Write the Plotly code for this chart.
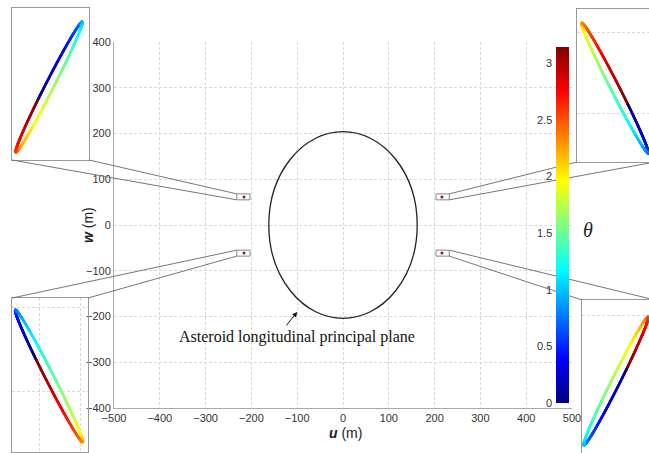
import numpy as np
import plotly.graph_objects as go

# ---------------- data ----------------
x_ticks = [-500, -400, -300, -200, -100, 0, 100, 200, 300, 400, 500]
y_ticks = [-400, -300, -200, -100, 0, 100, 200, 300, 400]

# asteroid longitudinal principal plane (ellipse semi-axes, m)
ast_semi_u = 162
ast_semi_w = 204

# small periodic orbits (dot positions, m) and zoom windows (m)
orbit_u = [-216, 216, -216, 216]
orbit_w = [61, 61, -61, -61]
win_u_in = 203      # inner edge |u| of the zoom windows
win_u_out = 232     # outer edge |u|
win_w_lo = 55
win_w_hi = 68

# inset orbit shapes (local inset units): centre, semi-axes, tilt (deg), phase at theta=0
inset_cu = [-1.5, -0.5, -1.0, -4.5]
inset_cw = [-3.0, -2.5, -1.0, -4.0]
inset_a = [73, 73, 74, 71.5]
inset_b = [4.2, 4.2, 4.2, 4.2]
inset_tilt = [63, 117, 117, 63.4]
inset_phase = [1.80, -1.83, 1.30, -1.33]

theta_max = np.pi
cbar_ticks = [0, 0.5, 1, 1.5, 2, 2.5, 3]
cbar_labels = ["0", "0.5", "1", "1.5", "2", "2.5", "3"]

jet = [[0.0, "rgb(0,0,128)"], [0.125, "rgb(0,0,255)"], [0.375, "rgb(0,255,255)"],
       [0.625, "rgb(255,255,0)"], [0.875, "rgb(255,0,0)"], [1.0, "rgb(128,0,0)"]]

# ---------------- layout geometry ----------------
W, H = 649, 453
main_x_px = (114, 572)
main_y_px = (42, 408)
xr = (-500, 500)
yr = (-400, 400)
cbar_px = dict(x0=556, x1=569, y0=47, y1=403)

def px_x(p):
    return p / W

def px_y(p):
    return 1 - p / H

main_xdom = [px_x(main_x_px[0]), px_x(main_x_px[1])]
main_ydom = [px_y(main_y_px[1]), px_y(main_y_px[0])]

def data_to_paper(u, w):
    px = main_xdom[0] + (u - xr[0]) / (xr[1] - xr[0]) * (main_xdom[1] - main_xdom[0])
    py = main_ydom[0] + (w - yr[0]) / (yr[1] - yr[0]) * (main_ydom[1] - main_ydom[0])
    return px, py

# insets: (x0px, x1px, y0px(top), y1px(bottom)), local ranges
insets = [
    dict(dom=(12, 89, 8, 160), xr=(-38.5, 38.5), yr=(-76, 76), xg=[], yg=[]),
    dict(dom=(577, 649, 9, 162), xr=(-38.5, 33.5), yr=(-76.5, 76.5), xg=[], yg=[53.5, -27.5]),
    dict(dom=(12, 88, 298, 452), xr=(-38, 38), yr=(-77, 77), xg=[-11, 30], yg=[68, -16]),
    dict(dom=(582, 649, 300, 453), xr=(-38.5, 28.5), yr=(-76, 77), xg=[], yg=[62]),
]

fig = go.Figure()

# main: orbit dots
fig.add_trace(go.Scatter(x=orbit_u, y=orbit_w, mode="markers",
                         marker=dict(color="#a01010", size=3), xaxis="x", yaxis="y",
                         hoverinfo="skip"))

theta = np.linspace(0, theta_max, 900)
for i in range(4):
    ang = np.deg2rad(inset_tilt[i])
    uu = np.array([np.cos(ang), np.sin(ang)])
    vv = np.array([-np.sin(ang), np.cos(ang)])
    t = inset_phase[i] - 2 * theta
    px = inset_cu[i] + inset_a[i] * np.cos(t) * uu[0] + inset_b[i] * np.sin(t) * vv[0]
    py = inset_cw[i] + inset_a[i] * np.cos(t) * uu[1] + inset_b[i] * np.sin(t) * vv[1]
    k = i + 2
    mk = dict(color=theta, colorscale=jet, cmin=0, cmax=theta_max, size=2.5)
    if i == 0:
        mk.update(showscale=True, colorbar=dict(
            x=px_x(cbar_px["x0"]), xanchor="left", thickness=cbar_px["x1"] - cbar_px["x0"],
            thicknessmode="pixels",
            len=(cbar_px["y1"] - cbar_px["y0"]) / H, lenmode="fraction",
            y=px_y((cbar_px["y0"] + cbar_px["y1"]) / 2), yanchor="middle", ypad=0, xpad=0,
            outlinewidth=0, showticklabels=False, ticks=""))
    fig.add_trace(go.Scatter(x=px, y=py, mode="markers", marker=mk,
                             xaxis=f"x{k}", yaxis=f"y{k}", hoverinfo="skip"))

axfont = dict(family="Arial, Liberation Sans", size=11, color="#333")
griddash = "3px,2px"
gridcolor = "#d9d9d9"
layout = dict(
    width=W, height=H, margin=dict(l=0, r=0, t=0, b=0, autoexpand=False),
    plot_bgcolor="white", paper_bgcolor="white", showlegend=False,
    xaxis=dict(domain=main_xdom, range=list(xr), tickvals=x_ticks, showgrid=True,
               gridcolor=gridcolor, griddash=griddash, gridwidth=1, zeroline=False,
               showline=True, linecolor="#aaa", linewidth=1, ticks="", tickfont=axfont,
               anchor="y"),
    yaxis=dict(domain=main_ydom, range=list(yr), tickvals=y_ticks, showgrid=True,
               gridcolor=gridcolor, griddash=griddash, gridwidth=1, zeroline=False,
               showline=True, linecolor="#aaa", linewidth=1, ticks="", tickfont=axfont,
               anchor="x"),
)
for i, ins in enumerate(insets):
    k = i + 2
    x0, x1, y0, y1 = ins["dom"]
    layout[f"xaxis{k}"] = dict(domain=[px_x(x0), px_x(x1)], range=list(ins["xr"]),
                               anchor=f"y{k}", showticklabels=False, ticks="",
                               tickvals=ins["xg"], showgrid=True, gridcolor=gridcolor,
                               griddash=griddash, zeroline=False, showline=True,
                               mirror=True, linecolor="#999", linewidth=1)
    layout[f"yaxis{k}"] = dict(domain=[px_y(y1), px_y(y0)], range=list(ins["yr"]),
                               anchor=f"x{k}", showticklabels=False, ticks="",
                               tickvals=ins["yg"], showgrid=True, gridcolor=gridcolor,
                               griddash=griddash, zeroline=False, showline=True,
                               mirror=True, linecolor="#999", linewidth=1)
fig.update_layout(**layout)

shapes = []
# asteroid ellipse
shapes.append(dict(type="circle", xref="x", yref="y", x0=-ast_semi_u, x1=ast_semi_u,
                   y0=-ast_semi_w, y1=ast_semi_w, line=dict(color="#222", width=1.3)))
# zoom windows
for su in (-1, 1):
    for sw in (-1, 1):
        ua, ub = sorted([su * win_u_in, su * win_u_out])
        wa, wb = sorted([sw * win_w_lo, sw * win_w_hi])
        shapes.append(dict(type="rect", xref="x", yref="y", x0=ua, x1=ub, y0=wa, y1=wb,
                           line=dict(color="#888", width=1)))

# connectors from insets to windows
def conn(p_px, u, w):
    x1, y1 = data_to_paper(u, w)
    return dict(type="line", xref="paper", yref="paper", x0=px_x(p_px[0]), y0=px_y(p_px[1]),
                x1=x1, y1=y1, line=dict(color="#777", width=1))

shapes += [
    conn((12, 160), -win_u_out, win_w_lo), conn((89, 160), -win_u_out, win_w_hi),
    conn((12, 298), -win_u_out, -win_w_lo), conn((88, 298), -win_u_out, -win_w_hi),
    conn((577, 162), win_u_out, win_w_hi), conn((655, 162), win_u_out, win_w_lo),
    conn((582, 300), win_u_out, -win_w_hi), conn((655, 300), win_u_out, -win_w_lo),
]
fig.update_layout(shapes=shapes)

ann = [
    dict(text="<b><i>u</i></b> (m)", xref="paper", yref="paper", x=px_x(345), y=px_y(433),
         xanchor="center", yanchor="middle", showarrow=False,
         font=dict(family="Arial, Liberation Sans", size=14, color="#222")),
    dict(text="<b><i>w</i></b> (m)", xref="paper", yref="paper", x=px_x(88), y=px_y(225),
         xanchor="center", yanchor="middle", showarrow=False, textangle=-90,
         font=dict(family="Arial, Liberation Sans", size=14, color="#222")),
    dict(text="Asteroid longitudinal principal plane", xref="paper", yref="paper",
         x=px_x(297), y=px_y(337), xanchor="center", yanchor="middle", showarrow=False,
         font=dict(family="Liberation Serif, Times New Roman", size=16, color="#111")),
    dict(text="", xref="x", yref="y", x=-100, y=-190, ax=-12, ay=15, showarrow=True,
         arrowhead=2, arrowsize=1, arrowwidth=1, arrowcolor="#111"),
    dict(text="<i>θ</i>", xref="paper", yref="paper", x=px_x(588), y=px_y(230),
         xanchor="center", yanchor="middle", showarrow=False,
         font=dict(family="Liberation Serif, Times New Roman", size=20, color="#222")),
]
# colour-bar tick labels (left of the bar)
for v, lab in zip(cbar_ticks, cbar_labels):
    ypx = cbar_px["y1"] - v / theta_max * (cbar_px["y1"] - cbar_px["y0"])
    ann.append(dict(text=lab, xref="paper", yref="paper", x=px_x(cbar_px["x0"] - 2),
                    y=px_y(ypx), xanchor="right", yanchor="middle", showarrow=False,
                    font=dict(family="Arial, Liberation Sans", size=11, color="#333")))
fig.update_layout(annotations=ann)

fig.write_html("out.html")
